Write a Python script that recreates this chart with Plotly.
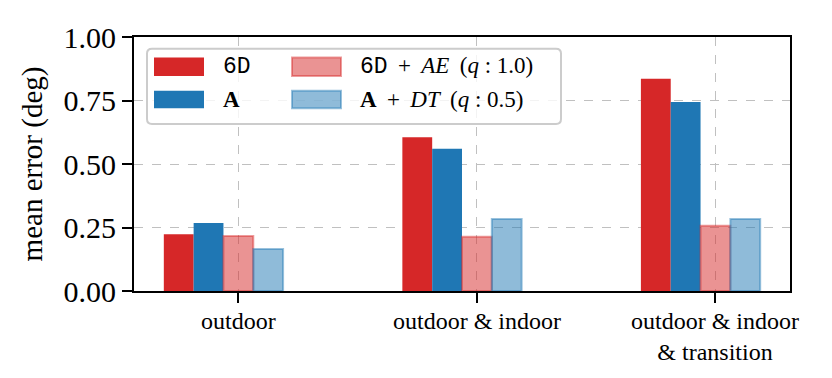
import plotly.graph_objects as go

# data
categories = ["outdoor", "outdoor & indoor", "outdoor & indoor<br>& transition"]
series_names = ["6D", "A", "6D + AE (q : 1.0)", "A + DT (q : 0.5)"]
err_6d = [0.223, 0.605, 0.836]
err_a = [0.268, 0.560, 0.744]
err_6d_ae = [0.217, 0.214, 0.257]
err_a_dt = [0.165, 0.283, 0.283]
y_ticks = [0.0, 0.25, 0.5, 0.75, 1.0]

values = [err_6d, err_a, err_6d_ae, err_a_dt]
fills = ["#d62728", "#1f77b4", "rgba(214,39,40,0.5)", "rgba(31,119,180,0.5)"]
edges = ["#d62728", "#1f77b4", "rgba(214,39,40,0.45)", "rgba(31,119,180,0.45)"]
edge_w = [0, 0, 2, 2]
TT = "<span style='font-family:Liberation Mono'>6D</span>"
SP = "&#8201;"
labels_html = [
    TT,
    "<b>A</b>",
    f"{TT}{SP} + {SP}<i>AE</i>{SP} (<i>q</i> : 1.0)",
    f"<b>A</b>{SP} + {SP}<i>DT</i>{SP} (<i>q</i> : 0.5)",
]

SERIF = "Liberation Serif"
BAR_W = 0.125
offsets = [-0.3125, -0.1875, -0.0625, 0.0625]
xpos = list(range(len(categories)))

fig = go.Figure()
for vals, f, e, w, off, name in zip(values, fills, edges, edge_w, offsets, series_names):
    fig.add_trace(go.Bar(
        x=xpos, y=vals, name=name,
        width=BAR_W, offset=off,
        marker=dict(color=f, line=dict(color=e, width=w)),
        showlegend=False,
    ))

# the page body adds 8px on the left/top, so the figure is 8px smaller
W, H = 824, 370
L, R, T, B = 126, 42, 23, 87
pw, ph = W - L - R, H - T - B
OFF = 8


def px(x):
    return (x - OFF - L) / pw


def py(y):
    return (H - B - (y - OFF)) / ph


# category labels as annotations so they can sit close under the ticks
for xi, lab in zip(xpos, categories):
    fig.add_annotation(x=xi, y=py(306), xref="x", yref="paper", text=lab,
                       showarrow=False, yanchor="top",
                       font=dict(family=SERIF, size=24, color="black"))

# manual legend frame with rounded corners (matplotlib style)
x0, x1, y0, y1, r = 147, 561, 43, 120, 5
rx, ry = r / pw, r / ph
X0, X1, Y0, Y1 = px(x0), px(x1), py(y1), py(y0)
path = (f"M {X0+rx},{Y0} L {X1-rx},{Y0} Q {X1},{Y0} {X1},{Y0+ry} "
        f"L {X1},{Y1-ry} Q {X1},{Y1} {X1-rx},{Y1} L {X0+rx},{Y1} "
        f"Q {X0},{Y1} {X0},{Y1-ry} L {X0},{Y0+ry} Q {X0},{Y0} {X0+rx},{Y0} Z")
fig.add_shape(type="path", path=path, xref="paper", yref="paper",
              fillcolor="rgba(255,255,255,0.8)", line=dict(color="#cccccc", width=2))

patch_x = [(154, 204), (154, 204), (292, 341), (292, 341)]
patch_y = [(52, 71), (86, 104), (52, 71), (86, 104)]
text_x = [221, 221, 358, 358]
for (a, b), (c, d), tx, f, e, w, lab in zip(patch_x, patch_y, text_x, fills, edges, edge_w, labels_html):
    fig.add_shape(type="rect", xref="paper", yref="paper",
                  x0=px(a), x1=px(b), y0=py(d), y1=py(c),
                  fillcolor=f, line=dict(color=e, width=w if w else 0))
    fig.add_annotation(x=px(tx), y=py((c + d) / 2), xref="paper", yref="paper",
                       text=lab, showarrow=False, xanchor="left", yanchor="middle",
                       font=dict(family=SERIF, size=23, color="black"))

fig.update_layout(
    width=W, height=H,
    margin=dict(l=L, r=R, t=T, b=B),
    plot_bgcolor="white", paper_bgcolor="white",
    barmode="overlay",
    font=dict(family=SERIF, color="black"),
    xaxis=dict(
        range=[-0.4375, 2.3125],
        tickmode="array", tickvals=xpos, ticktext=["", "", ""],
        ticks="outside", ticklen=10, tickwidth=2, tickcolor="black",
        showline=True, linecolor="black", linewidth=2, mirror=True,
        showgrid=True, gridcolor="#c0c0c0", griddash="dash", gridwidth=1,
        zeroline=False,
    ),
    yaxis=dict(
        range=[0, 1],
        tickmode="array", tickvals=y_ticks, tickformat=".2f",
        tickfont=dict(size=30),
        ticks="outside", ticklen=10, tickwidth=2, tickcolor="black",
        showline=True, linecolor="black", linewidth=2, mirror=True,
        showgrid=True, gridcolor="#c0c0c0", griddash="dash", gridwidth=1,
        zeroline=False,
        title=dict(text="mean error (deg)", font=dict(size=29), standoff=12),
    ),
)

fig.write_html("out.html")
